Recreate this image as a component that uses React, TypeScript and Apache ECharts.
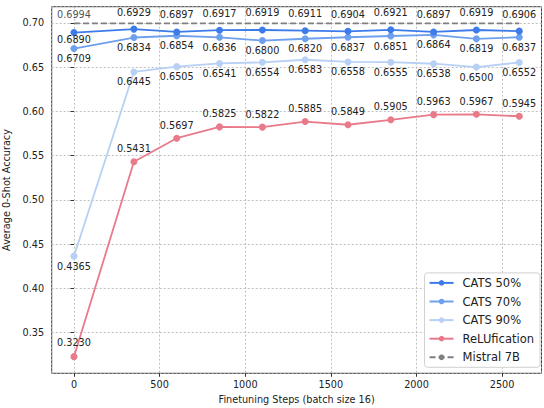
import React, { useEffect, useRef } from "react";
import * as echarts from "echarts";

const steps = [0, 350, 600, 850, 1100, 1350, 1600, 1850, 2100, 2350, 2600];
const cats50 = [0.6890, 0.6929, 0.6897, 0.6917, 0.6919, 0.6911, 0.6904, 0.6921, 0.6897, 0.6919, 0.6906];
const cats70 = [0.6709, 0.6834, 0.6854, 0.6836, 0.6800, 0.6820, 0.6837, 0.6851, 0.6864, 0.6819, 0.6837];
const cats90 = [0.4365, 0.6445, 0.6505, 0.6541, 0.6554, 0.6583, 0.6558, 0.6555, 0.6538, 0.6500, 0.6552];
const relu = [0.3230, 0.5431, 0.5697, 0.5825, 0.5822, 0.5885, 0.5849, 0.5905, 0.5963, 0.5967, 0.5945];
const mistral = 0.6994;

const FONT = "DejaVu Sans";
const FS = 9.7;

function lbl(text: string, dy: number) {
  return {
    show: true,
    position: "inside",
    offset: [0, dy],
    formatter: text,
    color: "#222",
    fontSize: FS,
    fontFamily: FONT,
  };
}

function mk(vals: number[], offsetFn: (i: number) => number) {
  return vals.map((v, i) => ({
    value: [steps[i], v],
    label: lbl(v.toFixed(4), offsetFn(i)),
  }));
}

export default function App() {
  const ref = useRef<HTMLDivElement>(null);
  useEffect(() => {
    const chart = echarts.init(ref.current!, null, { renderer: "svg" });
    const lineSeries = (name: string, color: string, data: any[], z: number) => ({
      name,
      type: "line",
      data,
      symbol: "circle",
      symbolSize: 7,
      z,
      itemStyle: { color },
      lineStyle: { color, width: 1.8 },
      emphasis: { disabled: true },
    });
    chart.setOption({
      animation: false,
      textStyle: { fontFamily: FONT },
      grid: {
        left: 51.7,
        right: 2.5,
        top: 6.7,
        bottom: 34.7,
        containLabel: false,
        outerBoundsMode: "none",
        show: true,
        borderColor: "#333",
        borderWidth: 1,
        backgroundColor: "transparent",
      },
      xAxis: {
        type: "value",
        min: -130,
        max: 2730,
        splitNumber: 5,
        name: "Finetuning Steps (batch size 16)",
        nameLocation: "middle",
        nameGap: 20,
        nameTextStyle: { fontSize: FS, color: "#222", fontFamily: FONT },
        axisLine: { show: false },
        axisTick: { show: true, length: 3.5, lineStyle: { color: "#333" } },
        axisLabel: {
          margin: 6.5,
          fontSize: FS,
          color: "#222",
          fontFamily: FONT,
          showMinLabel: false,
          showMaxLabel: false,
          formatter: (v: number) => String(Math.round(v)),
        },
        splitLine: { show: true, lineStyle: { color: "#b0b0b0", type: [2, 2], width: 0.8 } },
      },
      yAxis: {
        type: "value",
        min: 0.3042,
        max: 0.7182,
        splitNumber: 8,
        name: "Average 0-Shot Accuracy",
        nameLocation: "middle",
        nameGap: 33,
        nameTextStyle: { fontSize: FS, color: "#222", fontFamily: FONT },
        axisLine: { show: false },
        axisTick: { show: true, length: 3.5, lineStyle: { color: "#333" } },
        axisLabel: {
          margin: 7.5,
          fontSize: FS,
          color: "#222",
          fontFamily: FONT,
          showMinLabel: false,
          showMaxLabel: false,
          formatter: (v: number) => v.toFixed(2),
        },
        splitLine: { show: true, lineStyle: { color: "#b0b0b0", type: [2, 2], width: 0.8 } },
      },
      legend: {
        orient: "vertical",
        right: 4,
        bottom: 40.7,
        backgroundColor: "#fff",
        borderColor: "#d0d0d0",
        borderWidth: 1,
        borderRadius: 3,
        padding: [4, 6, 4, 4],
        itemWidth: 24,
        itemHeight: 7,
        itemGap: 6.6,
        textStyle: { fontSize: 11.5, color: "#222", fontFamily: FONT, padding: [0, 0, 0, 4] },
        data: ["CATS 50%", "CATS 70%", "CATS 90%", "ReLUfication", "Mistral 7B"],
      },
      series: [
        lineSeries("CATS 50%", "#3d7bea", mk(cats50, (i) => (i === 0 ? 6.5 : -17)), 5),
        lineSeries("CATS 70%", "#6fa0ee", mk(cats70, () => 10), 4),
        lineSeries("CATS 90%", "#b8d0f6", mk(cats90, () => 10), 3),
        lineSeries("ReLUfication", "#e97a8a", mk(relu, (i) => (i === 0 ? -14 : -13)), 2),
        {
          name: "Mistral 7B",
          type: "line",
          symbol: "none",
          z: 1,
          itemStyle: { color: "#808080" },
          lineStyle: { color: "#808080", width: 1.8, type: [6, 3] },
          emphasis: { disabled: true },
          data: [
            [steps[0], mistral],
            [steps[steps.length - 1], mistral],
          ],
        },
        {
          name: "Mistral 7B label",
          type: "scatter",
          symbolSize: 1,
          z: 6,
          itemStyle: { color: "transparent" },
          emphasis: { disabled: true },
          data: [{ value: [steps[0], mistral], label: lbl(mistral.toFixed(4), -9) }],
        },
      ],
    });
    return () => chart.dispose();
  }, []);
  return (
    <div
      ref={ref}
      style={{ position: "fixed", left: 0, top: 0, width: 544, height: 408, background: "#fff" }}
    />
  );
}
